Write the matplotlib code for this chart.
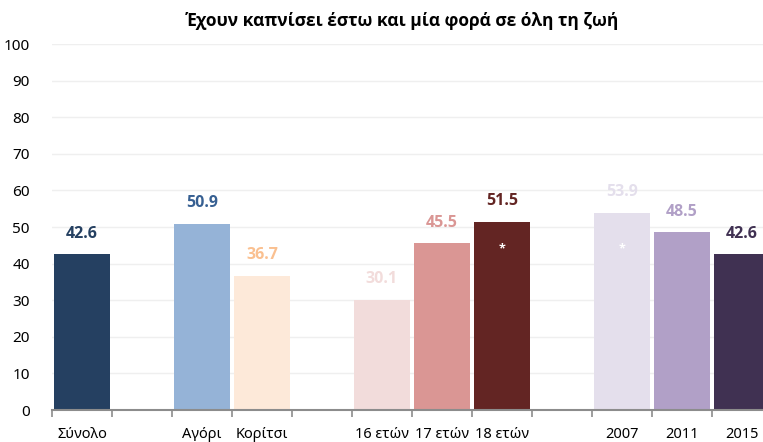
import matplotlib.pyplot as plt
import numpy as np

plt.rcParams['font.family'] = ['Noto Sans', 'DejaVu Sans']
BOLD = ['Open Sans', 'DejaVu Sans']

# slots: empty strings are the spacer slots between groups
categories = ['Σύνολο', '', 'Αγόρι', 'Κορίτσι', '', '16 ετών', '17 ετών', '18 ετών',
              '', '2007', '2011', '2015']
values = [42.6, None, 50.9, 36.7, None, 30.1, 45.5, 51.5, None, 53.9, 48.5, 42.6]
bar_colors = ['#254061', None, '#95b3d7', '#fde9d9', None, '#f2dcdb', '#da9694', '#632523',
              None, '#e4dfec', '#b1a0c7', '#403152']
label_colors = ['#254061', None, '#376092', '#fac090', None, '#f2dcdb', '#da9694', '#632523',
                None, '#e4dfec', '#b1a0c7', '#403152']
starred = ['18 ετών', '2007']
title = 'Έχουν καπνίσει έστω και μία φορά σε όλη τη ζωή'

fig = plt.figure(figsize=(7.63, 4.42), dpi=100)
# axes runs a little past the right edge, as in the original
ax = fig.add_axes([52 / 763, 32 / 442, 720 / 763, 366 / 442])

x = np.arange(len(categories)) + 0.5
for xi, cat, v, bc, lc in zip(x, categories, values, bar_colors, label_colors):
    if v is None:
        continue
    ax.bar(xi, v, width=0.93, color=bc, zorder=2)
    ax.annotate(f'{v:.1f}', (xi, v), xytext=(0, 9), textcoords='offset points',
                ha='center', va='bottom', fontsize=11.5, fontweight='bold', color=lc,
                family=BOLD)
    if cat in starred:
        ax.text(xi, 44, '*', ha='center', va='center', color='white', fontsize=9,
                fontweight='bold', zorder=3, family=BOLD)

ax.set_xlim(0, len(categories))
ax.set_ylim(0, 100)
ax.set_yticks(range(0, 101, 10))
ax.yaxis.grid(True, color='#efefef', linewidth=1, zorder=0)
ax.tick_params(axis='y', length=0, pad=16, labelsize=11)

ax.set_xticks(range(len(categories) + 1), minor=False)
ax.set_xticklabels([])
ax.set_xticks(x, minor=True)
ax.set_xticklabels(categories, minor=True)
ax.tick_params(axis='x', which='major', length=5, color='#8c8c8c', width=1.2)
ax.tick_params(axis='x', which='minor', length=0, pad=12, labelsize=10.5)

for s in ['top', 'right', 'left']:
    ax.spines[s].set_visible(False)
ax.spines['bottom'].set_color('#8c8c8c')
ax.spines['bottom'].set_linewidth(1.5)
ax.spines['bottom'].set_zorder(4)

fig.text(403 / 763, 1 - 21 / 442, title, ha='center', va='center', fontsize=12.5,
         fontweight='bold', family=BOLD)

fig.savefig('out.png', dpi=100)
